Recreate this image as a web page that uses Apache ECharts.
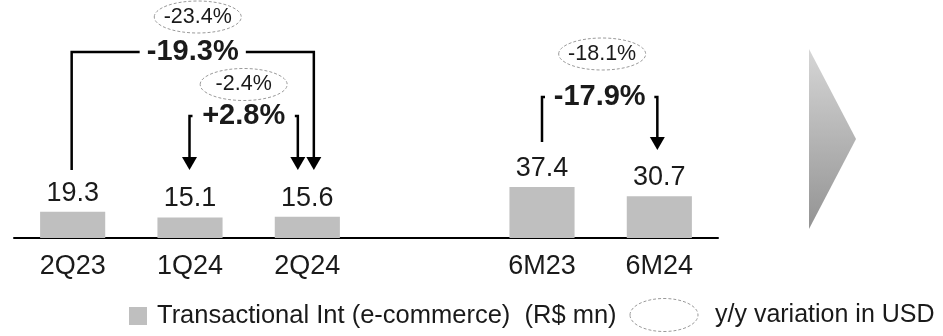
<!DOCTYPE html>
<html>
<head>
<meta charset="utf-8">
<title>Transactional Int (e-commerce)</title>
<script src="https://cdn.jsdelivr.net/npm/echarts@6.0.0/dist/echarts.min.js"></script>
<style>
  html, body { margin: 0; padding: 0; background: #fff; }
  #chart { width: 943px; height: 336px; }
</style>
</head>
<body>
<div id="chart"></div>
<script>
// chart data
var categories = ['2Q23', '1Q24', '2Q24', '', '6M23', '6M24'];
var revenue = [19.3, 15.1, 15.6, null, 37.4, 30.7];
var seriesName = 'Transactional Int (e-commerce)  (R$ mn)';
var usdLegend = 'y/y variation in USD';
// variation in R$ (bold) and y/y variation in USD (dashed ellipse), one per bracket
var growthLabels = ['-19.3%', '+2.8%', '-17.9%'];
var usdLabels = ['-23.4%', '-2.4%', '-18.1%'];
var bracketFrom = ['2Q23', '1Q24', '6M23'];
var bracketTo = ['2Q24', '2Q24', '6M24'];

(function(echarts) {
    var FONT = '"Liberation Sans", Arial, sans-serif';
    var TEXT = '#1a1a1a';
    var chart = echarts.init(document.getElementById('chart'));

    var option = {
        animation: false,
        grid: {
            left: 14,
            right: 225,
            top: 20,
            bottom: 98
        },
        xAxis: {
            type: 'category',
            data: categories,
            axisLine: {
                lineStyle: { color: '#000', width: 2 }
            },
            axisTick: { show: false },
            axisLabel: {
                color: TEXT,
                fontFamily: FONT,
                fontSize: 27,
                margin: 15
            }
        },
        yAxis: {
            type: 'value',
            min: 0,
            max: 160,
            show: false
        },
        legend: {
            data: [seriesName],
            left: 129,
            top: 303,
            padding: 0,
            icon: 'rect',
            itemWidth: 18,
            itemHeight: 18,
            selectedMode: false,
            textStyle: {
                color: TEXT,
                fontFamily: FONT,
                fontSize: 25.5,
                padding: [0, 0, 0, 5]
            }
        },
        series: [{
            name: seriesName,
            type: 'bar',
            barWidth: '55.5%',
            silent: true,
            itemStyle: { color: '#bfbfbf' },
            label: {
                show: true,
                position: 'top',
                distance: 5,
                color: TEXT,
                fontFamily: FONT,
                fontSize: 27
            },
            data: revenue
        }]
    };
    chart.setOption(option);

    // layout of the three brackets (offsets from the bar centres, in px)
    var layout = [
        { dx1: -1, dx2: 6.5, top: 52, y1: 170, y2: 170, arm: 68, arrowStart: false, ell: [5, 17] },
        { dx1: -0.5, dx2: -9.5, top: 116, y1: 170, y2: 170, arm: 3, arrowStart: true, ell: [0, 84.5] },
        { dx1: 0, dx2: -2, top: 97, y1: 142, y2: 150, arm: 3, arrowStart: false, ell: [2.5, 54] }
    ];
    var HEAD_W = 15, HEAD_H = 13;

    function px(cat) {
        return chart.convertToPixel({ xAxisIndex: 0 }, cat);
    }

    function line(points) {
        return {
            type: 'polyline',
            silent: true,
            shape: { points: points },
            style: { stroke: '#000', lineWidth: 2.5, fill: null }
        };
    }

    function head(x, tipY) {
        return {
            type: 'polygon',
            silent: true,
            shape: { points: [[x - HEAD_W / 2, tipY - HEAD_H], [x + HEAD_W / 2, tipY - HEAD_H], [x, tipY]] },
            style: { fill: '#000' }
        };
    }

    function ellipse(cx, cy, rx, ry) {
        return {
            type: 'ellipse',
            silent: true,
            shape: { cx: cx, cy: cy, rx: rx, ry: ry },
            style: { fill: null, stroke: '#9a9a9a', lineWidth: 1, lineDash: [3, 2] }
        };
    }

    function text(x, y, str, size, bold) {
        return {
            type: 'text',
            silent: true,
            x: x,
            y: y,
            style: {
                text: str,
                fill: TEXT,
                font: (bold ? 'bold ' : '') + size + 'px ' + FONT,
                align: 'center',
                verticalAlign: 'middle'
            }
        };
    }

    var elements = [];
    layout.forEach(function(b, i) {
        var x1 = px(bracketFrom[i]) + b.dx1;
        var x2 = px(bracketTo[i]) + b.dx2;
        var mid = (x1 + x2) / 2;

        elements.push(line([[x1 + b.arm, b.top], [x1, b.top], [x1, b.arrowStart ? b.y1 - HEAD_H + 1 : b.y1]]));
        if (b.arrowStart) {
            elements.push(head(x1, b.y1));
        }
        elements.push(line([[x2 - b.arm, b.top], [x2, b.top], [x2, b.y2 - HEAD_H + 1]]));
        elements.push(head(x2, b.y2));

        elements.push(text(mid, b.top, growthLabels[i], 29, true));
        elements.push(ellipse(mid + b.ell[0], b.ell[1], 43.5, 16));
        elements.push(text(mid + b.ell[0], b.ell[1], usdLabels[i], 21.5, false));
    });

    // second legend entry: dashed ellipse
    elements.push(ellipse(664, 315, 34, 16.5));
    elements.push({
        type: 'text',
        silent: true,
        x: 715,
        y: 315,
        style: {
            text: usdLegend,
            fill: TEXT,
            font: '25px ' + FONT,
            align: 'left',
            verticalAlign: 'middle'
        }
    });

    // big grey arrow on the right
    elements.push({
        type: 'polygon',
        silent: true,
        shape: { points: [[809, 49], [856, 139], [809, 229]] },
        style: {
            fill: new echarts.graphic.LinearGradient(0, 0, 0, 1, [
                { offset: 0, color: '#d6d6d6' },
                { offset: 1, color: '#939393' }
            ])
        }
    });

    chart.setOption({ graphic: { elements: elements } });
}(echarts));
</script>
</body>
</html>
